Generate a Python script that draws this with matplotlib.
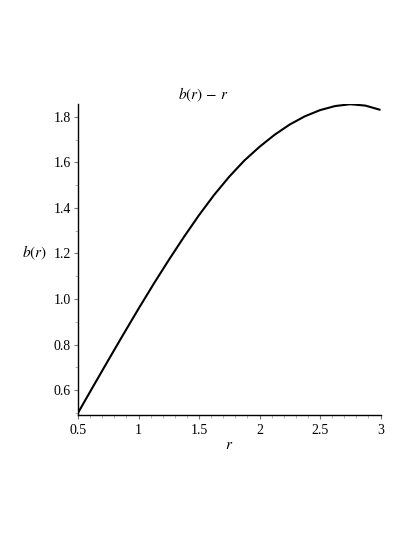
import matplotlib
matplotlib.use("Agg")
import matplotlib.pyplot as plt
from matplotlib.ticker import MultipleLocator, FixedLocator

plt.rcParams['font.family'] = ['Liberation Serif', 'DejaVu Serif']
plt.rcParams['mathtext.fontset'] = 'stix'

# data
r_vals = [0.5, 0.625, 0.75, 0.875, 1.0, 1.125, 1.25, 1.375, 1.5, 1.625, 1.75,
          1.875, 2.0, 2.125, 2.25, 2.375, 2.5, 2.625, 2.75, 2.875, 3.0]
b_vals = [0.500, 0.616, 0.731, 0.845, 0.957, 1.066, 1.171, 1.272, 1.368, 1.457, 1.537,
          1.608, 1.668, 1.721, 1.766, 1.802, 1.829, 1.847, 1.855, 1.849, 1.830]
x_ticks = [0.5, 1, 1.5, 2, 2.5, 3]
x_tick_labels = ['0.5', '1', '1.5', '2', '2.5', '3']
y_ticks = [0.6, 0.8, 1.0, 1.2, 1.4, 1.6, 1.8]
y_tick_labels = ['0.6', '0.8', '1.0', '1.2', '1.4', '1.6', '1.8']

W, H = 415, 537
fig = plt.figure(figsize=(W / 100, H / 100), dpi=100)
left, right = 78 / W, 380.5 / W
bottom, top = (H - 414.5) / H, (H - 104) / H
ax = fig.add_axes([left, bottom, right - left, top - bottom])

ax.plot(r_vals, b_vals, color='black', lw=1.5, solid_capstyle='butt',
        solid_joinstyle='round')
ax.set_xlim(0.5, 3.0)
ax.set_ylim(0.493, 1.856)

for s in ['top', 'right']:
    ax.spines[s].set_visible(False)
for s in ['left', 'bottom']:
    ax.spines[s].set_linewidth(1.0)
    ax.spines[s].set_color('black')

ax.xaxis.set_major_locator(FixedLocator(x_ticks))
ax.set_xticklabels(x_tick_labels)
ax.yaxis.set_major_locator(FixedLocator(y_ticks))
ax.set_yticklabels(y_tick_labels)
ax.xaxis.set_minor_locator(MultipleLocator(0.1))
ax.yaxis.set_minor_locator(MultipleLocator(0.1))
ax.tick_params(which='major', direction='out', length=3, width=0.8, color='#777777',
               labelsize=10, labelcolor='black')
ax.tick_params(axis='x', which='major', pad=3.5)
ax.tick_params(axis='y', which='major', pad=2)
ax.tick_params(which='minor', direction='out', length=2, width=0.6, color='#aaaaaa')

fig.text(203 / W, 1 - 95 / H, r'$b(r)\, -\, r$', fontsize=11, ha='center', va='center')
ax.set_xlabel(r'$r$', fontsize=11, labelpad=2)
ax.set_ylabel(r'$b(r)$', fontsize=11, rotation=0, labelpad=0)
ax.yaxis.set_label_coords(-0.145, 0.49)

fig.savefig('out.png', dpi=100)
